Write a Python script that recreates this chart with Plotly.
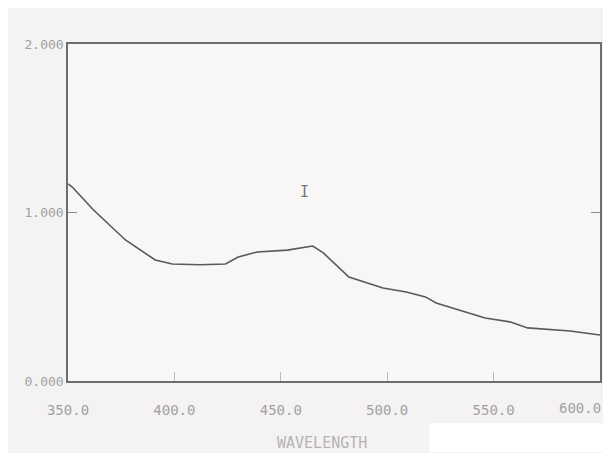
import plotly.graph_objects as go

wavelength = [350, 352, 362, 377, 391, 399, 412, 424, 430, 439, 453, 465, 470,
              482, 498, 509, 518, 523, 546, 558, 566, 586, 600]
absorbance = [1.17, 1.151, 1.015, 0.837, 0.718, 0.694, 0.690, 0.694, 0.736, 0.766,
              0.777, 0.801, 0.760, 0.617, 0.552, 0.528, 0.499, 0.463, 0.374, 0.350,
              0.315, 0.297, 0.273]

x_ticks = [350, 400, 450, 500, 550, 600]
x_tick_labels = ["350.0", "400.0", "450.0", "500.0", "550.0", "600.0"]
y_ticks = [0, 1, 2]
y_tick_labels = ["0.000", "1.000", "2.000"]

mono = "DejaVu Sans Mono"
faded = "#a3a1a2"
frame = "#6e6c6d"

fig = go.Figure()
fig.add_trace(go.Scatter(
    x=wavelength, y=absorbance, mode="lines",
    line=dict(color="#5a5859", width=1.6), showlegend=False, hoverinfo="skip",
))

fig.update_layout(
    width=595, height=445,
    margin=dict(l=60, r=1, t=36, b=72),
    paper_bgcolor="#f4f2f3",
    plot_bgcolor="#f8f6f7",
    font=dict(family=mono, size=13, color=faded),
    xaxis=dict(
        range=[350, 600], tickvals=x_ticks[:-1], ticktext=x_tick_labels[:-1],
        showline=True, mirror=True, linecolor=frame, linewidth=1.5,
        ticks="inside", ticklen=9, tickcolor="#bdbbbc", tickwidth=1,
        ticklabelstandoff=15,
        showgrid=False, zeroline=False,
        tickfont=dict(family=mono, size=14, color=faded),
    ),
    yaxis=dict(
        range=[0, 2], tickvals=y_ticks, ticktext=y_tick_labels,
        showline=True, mirror="ticks", linecolor=frame, linewidth=1.5,
        ticks="inside", ticklen=9, tickcolor="#8a8889", tickwidth=1,
        showgrid=False, zeroline=False,
        tickfont=dict(family=mono, size=13, color=faded),
    ),
    annotations=[
        dict(text=x_tick_labels[-1], x=x_ticks[-1], y=0, xref="x", yref="y",
             xanchor="right", yanchor="top", yshift=-17, xshift=3, showarrow=False,
             font=dict(family=mono, size=14, color=faded)),
        dict(text="WAVELENGTH", x=0.477, y=-0.184, xref="paper", yref="paper",
             yshift=-11, showarrow=False,
             font=dict(family=mono, size=15, color="#b5b3b4")),
        dict(text="I", x=461, y=1.12, xref="x", yref="y", showarrow=False,
             font=dict(family=mono, size=15, color="#7a7879")),
    ],
    shapes=[
        dict(type="rect", xref="paper", yref="paper", x0=0.679, x1=1.01,
             y0=-0.211, y1=-0.125, fillcolor="#ffffff", line=dict(width=0),
             layer="above"),
    ],
)

fig.write_html("out.html")
